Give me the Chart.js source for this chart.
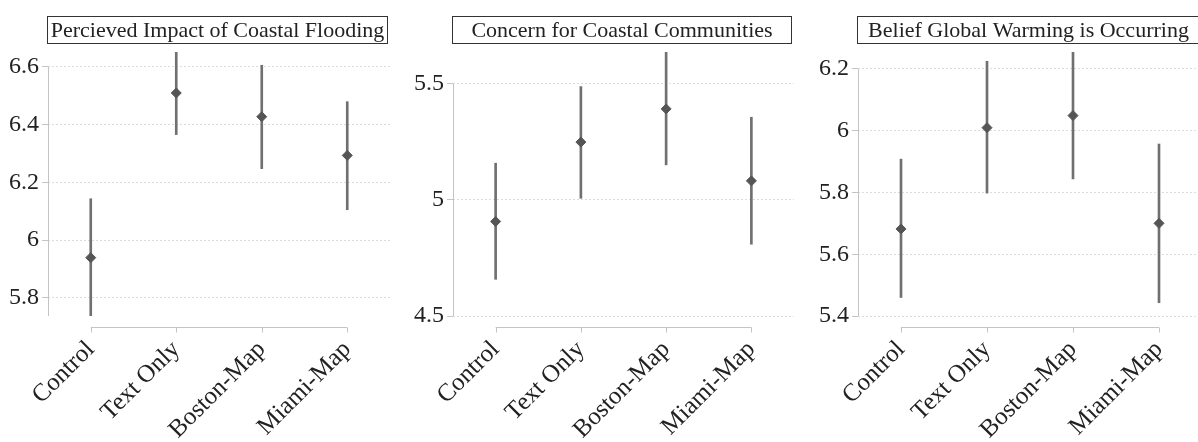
<!DOCTYPE html>
<html>
<head>
<meta charset="utf-8">
<script src="https://cdn.jsdelivr.net/npm/chart.js@4.4.0/dist/chart.umd.min.js"></script>
<style>
  html, body { margin: 0; padding: 0; background: #fff; overflow: hidden; }
  body { width: 1198px; height: 442px; position: relative; }
  canvas { position: absolute; top: 0; }
</style>
</head>
<body>
<canvas id="c1" width="396" height="442" style="left:0px"></canvas>
<canvas id="c2" width="400" height="442" style="left:400px"></canvas>
<canvas id="c3" width="410" height="442" style="left:800px"></canvas>
<script>
// grupos (eixo x) comuns aos tres paineis
const grupos = ["Control", "Text Only", "Boston-Map", "Miami-Map"];

// painel 1
const titulo1 = "Percieved Impact of Coastal Flooding";
const media1 = [5.939, 6.509, 6.427, 6.293];
const baixo1 = [5.737, 6.365, 6.247, 6.105];
const alto1 = [6.143, 6.651, 6.605, 6.479];
const ticks1 = [5.8, 6, 6.2, 6.4, 6.6];
const rotulos1 = ["5.8", "6", "6.2", "6.4", "6.6"];

// painel 2
const titulo2 = "Concern for Coastal Communities";
const media2 = [4.907, 5.249, 5.392, 5.082];
const baixo2 = [4.658, 5.007, 5.151, 4.809];
const alto2 = [5.158, 5.488, 5.637, 5.356];
const ticks2 = [4.5, 5, 5.5];
const rotulos2 = ["4.5", "5", "5.5"];

// painel 3
const titulo3 = "Belief Global Warming is Occurring";
const media3 = [5.682, 6.010, 6.049, 5.700];
const baixo3 = [5.460, 5.798, 5.844, 5.443];
const alto3 = [5.908, 6.225, 6.255, 5.957];
const ticks3 = [5.4, 5.6, 5.8, 6, 6.2];
const rotulos3 = ["5.4", "5.6", "5.8", "6", "6.2"];

Chart.defaults.font.family = "'Liberation Serif', 'DejaVu Serif', serif";
Chart.defaults.color = "#222";

const eixos = {
  id: "eixos",
  afterDraw(chart, args, opts) {
    const ctx = chart.ctx;
    const a = chart.chartArea;
    const x = chart.scales.x;
    const y = chart.scales.y;
    ctx.save();
    ctx.strokeStyle = "#c4c4c4";
    ctx.lineWidth = 1;

    // eixo y: do tick de cima ate o menor valor
    const yTop = y.getPixelForValue(opts.topo);
    const yBot = y.getPixelForValue(opts.fundo);
    ctx.beginPath();
    ctx.moveTo(a.left + 0.5, yTop);
    ctx.lineTo(a.left + 0.5, yBot);
    ctx.stroke();

    // eixo x afastado do grafico
    const yx = Math.round(a.bottom + 11) + 0.5;
    ctx.beginPath();
    ctx.moveTo(x.getPixelForTick(0), yx);
    ctx.lineTo(x.getPixelForTick(grupos.length - 1), yx);
    for (let i = 0; i < grupos.length; i++) {
      const px = Math.round(x.getPixelForTick(i)) + 0.5;
      ctx.moveTo(px, yx);
      ctx.lineTo(px, yx + 5);
    }
    ctx.stroke();

    // caixa do titulo
    const bx = Math.round(a.left - 1) + 0.5;
    const bw = Math.round(a.right - a.left - 2);
    ctx.strokeStyle = "#333";
    ctx.strokeRect(bx, 16.5, bw, 27);
    ctx.fillStyle = "#222";
    ctx.font = "22px 'Liberation Serif', serif";
    ctx.textAlign = "center";
    ctx.textBaseline = "middle";
    ctx.fillText(opts.titulo, bx + bw / 2, 31);
    ctx.restore();
  },
};

function painel(id, titulo, media, baixo, alto, ticks, rotulos, larguraY, direita) {
  const minimo = Math.min(ticks[0], ...baixo);
  const maximo = Math.max(ticks[ticks.length - 1], ...alto);
  const barras = baixo.map((v, i) => [v, alto[i]]);

  new Chart(document.getElementById(id), {
    data: {
      labels: grupos,
      datasets: [
        {
          type: "line",
          data: media,
          showLine: false,
          pointStyle: "rectRot",
          pointRadius: 5,
          pointBackgroundColor: "#555",
          pointBorderColor: "#555",
          pointBorderWidth: 1,
          order: 0,
        },
        {
          type: "bar",
          data: barras,
          barThickness: 2,
          backgroundColor: "#707070",
          borderWidth: 0,
          order: 1,
        },
      ],
    },
    options: {
      responsive: false,
      animation: false,
      layout: { padding: { top: 52, right: direita, bottom: 0, left: 0 } },
      plugins: {
        legend: { display: false },
        tooltip: { enabled: false },
        eixos: { titulo: titulo, topo: ticks[ticks.length - 1], fundo: minimo },
      },
      scales: {
        x: {
          type: "category",
          offset: true,
          grid: { display: false, drawTicks: false },
          border: { display: false },
          ticks: {
            autoSkip: false,
            maxRotation: 45,
            minRotation: 45,
            padding: 19,
            font: { size: 25 },
            color: "#222",
          },
          afterFit(scale) {
            scale.height = 126;
          },
        },
        y: {
          min: minimo,
          max: maximo,
          grid: {
            color: "#dcdcdc",
            tickColor: "#c4c4c4",
            tickLength: 6,
            tickBorderDash: [],
          },
          border: { display: false, dash: [2, 2] },
          ticks: {
            padding: 3,
            font: { size: 24 },
            color: "#222",
            callback: (v, i) => rotulos[i],
          },
          afterBuildTicks(scale) {
            scale.ticks = ticks.map((v) => ({ value: v }));
          },
          afterFit(scale) {
            scale.width = larguraY;
          },
        },
      },
    },
    plugins: [eixos],
  });
}

painel("c1", titulo1, media1, baixo1, alto1, ticks1, rotulos1, 48, 4);
painel("c2", titulo2, media2, baixo2, alto2, ticks2, rotulos2, 53, 3);
painel("c3", titulo3, media3, baixo3, alto3, ticks3, rotulos3, 58, 8);
</script>
</body>
</html>
